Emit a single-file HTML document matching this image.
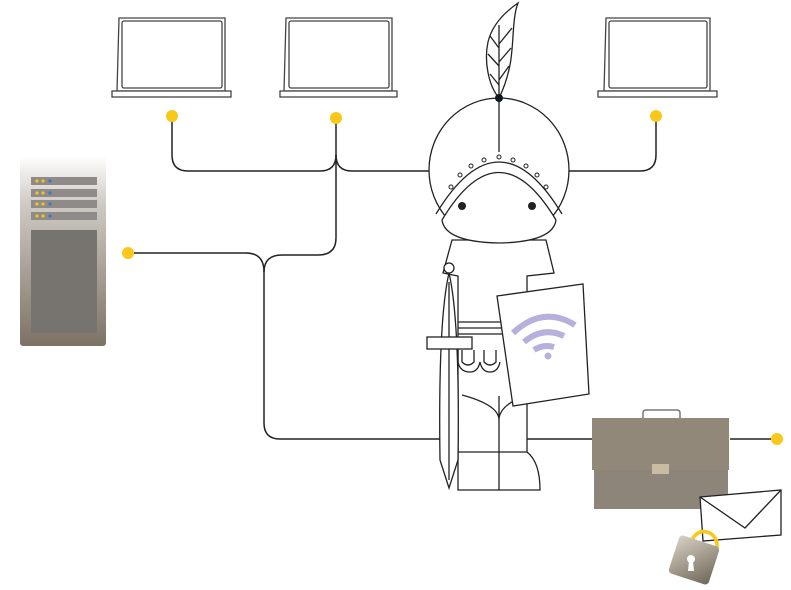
<!DOCTYPE html>
<html><head><meta charset="utf-8"><style>html,body{margin:0;padding:0;background:#fff}svg{display:block}</style></head>
<body>
<svg width="791" height="590" viewBox="0 0 791 590" xmlns="http://www.w3.org/2000/svg">
<defs>
<linearGradient id="srv" x1="0" y1="0" x2="0" y2="1">
<stop offset="0" stop-color="#fff"/><stop offset="0.25" stop-color="#cfcac5"/><stop offset="1" stop-color="#7d7264"/>
</linearGradient>
<linearGradient id="lk" x1="0" y1="0" x2="1" y2="1">
<stop offset="0" stop-color="#d8d2c4"/><stop offset="1" stop-color="#6e6657"/>
</linearGradient>
</defs>
<g fill="none" stroke="#222" stroke-width="1.5">
<path d="M172 116 V155 Q172 171 188 171 H320 Q336 171 336 155"/>
<path d="M336 118 V238 Q336 255 318 255 H282 Q264 255 264 272"/>
<path d="M336 155 Q336 171 352 171 H432"/>
<path d="M128 253 H246 Q264 253 264 272 V423 Q264 439 280 439 H593"/>
<path d="M730 439 H777"/>
<path d="M566 171 H640 Q656 171 656 155 V116"/>
</g>
<g fill="#f9c81b"><circle cx="172" cy="116" r="6"/><circle cx="336" cy="118" r="6"/><circle cx="656" cy="116" r="6"/><circle cx="128" cy="253" r="6"/><circle cx="777" cy="439" r="6"/></g>
<g fill="#fff" stroke="#444" stroke-width="1.3">
<path d="M119 18 H225 L225 91 H117 Z"/><rect x="122" y="21" width="100" height="67" rx="2"/><rect x="112" y="91" width="119" height="6"/>
<path d="M286 18 H392 L392 91 H284 Z"/><rect x="289" y="21" width="100" height="67" rx="2"/><rect x="280" y="91" width="117" height="6"/>
<path d="M606 18 H710 L710 91 H604 Z"/><rect x="609" y="21" width="98" height="67" rx="2"/><rect x="598" y="91" width="119" height="6"/>
</g>
<rect x="20" y="156" width="86" height="190" rx="3" fill="url(#srv)"/>
<g fill="#8e8b88"><rect x="31" y="177" width="66" height="8"/><rect x="31" y="189" width="66" height="8"/><rect x="31" y="200" width="66" height="8"/><rect x="31" y="212" width="66" height="8"/><rect x="31" y="230" width="66" height="103" fill="#77736f"/></g>
<g fill="#f3c423"><circle cx="37" cy="181" r="1.6"/><circle cx="43" cy="181" r="1.6"/><circle cx="37" cy="193" r="1.6"/><circle cx="43" cy="193" r="1.6"/><circle cx="37" cy="204" r="1.6"/><circle cx="43" cy="204" r="1.6"/><circle cx="37" cy="216" r="1.6"/><circle cx="43" cy="216" r="1.6"/></g>
<g fill="#3a78c8"><circle cx="50" cy="181" r="1.6"/><circle cx="50" cy="193" r="1.6"/><circle cx="50" cy="204" r="1.6"/><circle cx="50" cy="216" r="1.6"/></g>
<g fill="#fff" stroke="#222" stroke-width="1.3">
<path d="M499 98 C488 85 484 60 488 42 C492 25 505 12 518 3 C512 18 514 45 510 65 C507 80 503 90 499 98 Z"/>
<path d="M499 97 V25 M499 85 L490 74 M499 80 L509 66 M499 66 L488 54 M499 62 L511 48 M499 48 L490 36 M499 44 L512 28" fill="none"/>
<path d="M452 240 L443 273 L458 276 L458 452 Q458 465 458 490 L540 490 Q540 462 527 452 L527 276 L554 273 L546 240 Z"/>
<ellipse cx="499" cy="170" rx="70" ry="72"/>
<path d="M436 214 Q499 110 562 214" fill="none"/>
<path d="M442 220 Q499 125 556 220"/>
<path d="M442 220 Q445 242 499 243 Q553 242 556 220"/>
<path d="M499 98 V152" fill="none"/>
<path d="M458 452 H527 M499 396 V490 M462 395 Q499 405 499 420 Q499 405 527 395" fill="none"/>
<path d="M458 322 H510 M458 328 H510 M458 334 H510" fill="none"/>
<path d="M458 350 V362 Q460 372 470 372 Q478 372 480 362 Q482 372 490 372 Q498 372 500 362 M462 350 V362 Q468 368 474 362 V350 M484 350 V362 Q490 368 496 362 V350" fill="none"/>
<path d="M449 273 Q438 320 440 460 L449 488 L458 460 Q460 320 449 273 Z"/>
<path d="M449 282 V480" fill="none"/>
<circle cx="449" cy="268" r="5"/>
<rect x="427" y="337" width="45" height="12"/>
<path d="M497 296 L583 284 L589 394 L513 406 Z"/>
</g>
<g fill="#fff" stroke="#222" stroke-width="1"><circle cx="484" cy="160" r="2"/><circle cx="499" cy="157" r="2"/><circle cx="513" cy="160" r="2"/><circle cx="471" cy="166" r="2"/><circle cx="526" cy="166" r="2"/><circle cx="460" cy="175" r="2"/><circle cx="537" cy="175" r="2"/><circle cx="451" cy="187" r="2"/><circle cx="546" cy="187" r="2"/></g>
<circle cx="462" cy="206" r="4" fill="#222"/><circle cx="532" cy="206" r="4" fill="#222"/><circle cx="499" cy="98" r="4" fill="#0d1a24"/>
<g fill="none" stroke="#b8b0dc" stroke-width="6"><path d="M513 333 Q543 305 575 325"/><path d="M524 342 Q543 326 564 336"/><path d="M534 350 Q543 344 554 347"/></g>
<circle cx="548" cy="356" r="3.5" fill="#b8b0dc"/>
<path d="M643 418 V413 Q643 410 646 410 H677 Q680 410 680 413 V418" fill="none" stroke="#777" stroke-width="1.5"/>
<rect x="594" y="469" width="134" height="40" fill="#8d857a"/>
<rect x="592" y="418" width="137" height="52" fill="#918879"/>
<rect x="652" y="464" width="17" height="10" fill="#c9bca3"/>
<g fill="#fff" stroke="#222" stroke-width="1.3"><path d="M700 497 L781 490 L781 535 L703 541 Z"/><path d="M700 497 L745 528 L781 490" fill="none"/></g>
<path d="M692 540 Q698 528 710 533 Q721 540 715 555" fill="none" stroke="#f9c81b" stroke-width="3.5"/>
<g transform="rotate(18 694 560)"><rect x="673" y="540" width="42" height="40" rx="4" fill="url(#lk)"/></g>
<circle cx="691" cy="559" r="4" fill="#fff"/><path d="M689 561 L688 571 H694 L693 561 Z" fill="#fff"/>
</svg>
</body></html>
